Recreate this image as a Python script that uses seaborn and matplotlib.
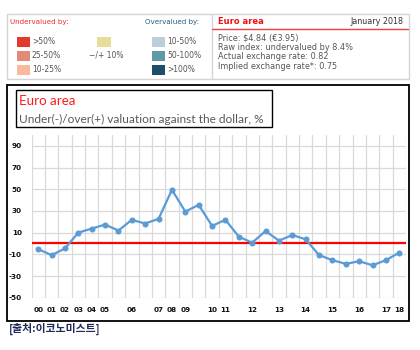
import matplotlib
matplotlib.use("Agg")
import matplotlib.pyplot as plt
from matplotlib.patches import Rectangle
from matplotlib.lines import Line2D
import seaborn as sns
import pandas as pd

# ---- data ----
period_labels = ["00", "01", "02", "03", "04", "05", "", "06", "", "07", "08", "09", "",
                 "10", "11", "", "12", "", "13", "", "14", "", "15", "", "16", "", "17", "18"]
valuation = [-5.2, -10.8, -4.6, 10.0, 13.7, 17.4, 11.9, 21.8, 18.4, 22.7, 49.5, 29.4, 35.6,
             16.2, 21.8, 6.3, 0.7, 11.5, 2.6, 7.8, 3.8, -10.8, -15.4, -18.8, -16.4, -20.1,
             -15.4, -8.4]
y_ticks = [-50, -30, -10, 10, 30, 50, 70, 90]

under_labels = [">50%", "25-50%", "10-25%"]
under_colors = ["#e23b2e", "#e08a78", "#fbb8a0"]
over_labels = ["10-50%", "50-100%", ">100%"]
over_colors = ["#bccfd9", "#5f98a7", "#1b4f6b"]
neutral_label = "\u2212/+ 10%"
neutral_color = "#e8dc9b"
info_lines = ["Price: $4.84 (\u20ac3.95)", "Raw index: undervalued by 8.4%",
              "Actual exchange rate: 0.82", "Implied exchange rate*: 0.75"]

sns.set_theme(style="white")
plt.rcParams["font.family"] = ["DejaVu Sans"]

W, H = 420, 350
fig = plt.figure(figsize=(4.2, 3.5), dpi=100)


def fx(x):
    return x / W


def fy(y):
    return 1 - y / H


def rect(x0, y0, x1, y1, **kw):
    fig.add_artist(Rectangle((fx(x0), fy(y1)), fx(x1) - fx(x0), fy(y0) - fy(y1),
                             transform=fig.transFigure, **kw))


def hline(x0, x1, y, **kw):
    fig.add_artist(Line2D([fx(x0), fx(x1)], [fy(y), fy(y)], transform=fig.transFigure, **kw))


def vline(x, y0, y1, **kw):
    fig.add_artist(Line2D([fx(x), fx(x)], [fy(y0), fy(y1)], transform=fig.transFigure, **kw))


def text(x, y, s, **kw):
    fig.text(fx(x), fy(y), s, **kw)


# ---- top legend panel ----
rect(7, 14, 409, 79, fill=False, edgecolor="#d4d4d4", linewidth=1.0)
vline(212, 14, 79, color="#d4d4d4", linewidth=1.0)
text(10, 22, "Undervalued by:", color="#ee2a2a", fontsize=5.1, va="center", ha="left")
text(145, 22, "Overvalued by:", color="#2b5a78", fontsize=5.1, va="center", ha="left")
rows_y = [42, 56, 70]
for yy, lab, col in zip(rows_y, under_labels, under_colors):
    rect(17, yy - 5, 30, yy + 5, facecolor=col, edgecolor="none")
    text(32, yy, lab, color="#555555", fontsize=5.5, va="center", ha="left")
rect(97, 37, 111, 47, facecolor=neutral_color, edgecolor="none")
text(89, 55, neutral_label, color="#555555", fontsize=5.5, va="center", ha="left")
for yy, lab, col in zip(rows_y, over_labels, over_colors):
    rect(152, yy - 5, 165, yy + 5, facecolor=col, edgecolor="none")
    text(167, yy, lab, color="#555555", fontsize=5.5, va="center", ha="left")

text(218, 21, "Euro area", color="#ee1111", fontsize=6.0, fontweight="bold", va="center", ha="left")
text(403, 21, "January 2018", color="#333333", fontsize=5.8, va="center", ha="right")
hline(212, 408, 29, color="#f04040", linewidth=1.0)
for i, line in enumerate(info_lines):
    text(218, 38 + i * 9.4, line, color="#555555", fontsize=5.9, va="center", ha="left")

# ---- chart box ----
rect(7, 85, 409, 321, fill=False, edgecolor="black", linewidth=1.3)
rect(16, 90, 272, 127, fill=False, edgecolor="black", linewidth=1.0)
text(19, 101, "Euro area", color="#ff1a1a", fontsize=9.6, family="Lato", va="center", ha="left")
text(19, 119, "Under(-)/over(+) valuation against the dollar, %", color="#595959",
     fontsize=8.6, family="Lato", va="center", ha="left")

left, right, top, bottom = 31.5, 406, 135, 297.7
ax = fig.add_axes([fx(left), fy(bottom), fx(right) - fx(left), fy(top) - fy(bottom)])

df = pd.DataFrame({"pos": list(range(len(valuation))), "val": valuation})
ax.axhline(0, color="#ff0000", linewidth=1.6, zorder=2)
sns.lineplot(data=df, x="pos", y="val", ax=ax, color="#5b9bd5", linewidth=1.6,
             marker="o", markersize=3.6, markeredgecolor="#5b9bd5", zorder=3)

n = len(valuation)
ax.set_xlim(-0.5, n - 0.5)
ax.set_ylim(-50, 100)
ax.set_xticks(range(n))
ax.set_xticklabels(period_labels)
ax.set_xticks([i + 0.5 for i in range(-1, n)], minor=True)
ax.set_yticks(y_ticks)
ax.set_yticklabels([str(v) for v in y_ticks])
ax.grid(False)
ax.grid(True, which="minor", axis="x", color="#d9d9d9", linewidth=0.9)
ax.grid(True, which="major", axis="y", color="#d9d9d9", linewidth=0.9)
ax.set_axisbelow(True)
ax.tick_params(axis="both", which="both", length=0)
ax.tick_params(axis="x", pad=6.5)
ax.tick_params(axis="y", pad=7)
for lab in ax.get_xticklabels() + ax.get_yticklabels():
    lab.set_fontsize(5.2)
    lab.set_fontweight("bold")
    lab.set_color("#111111")
ax.set_xlabel("")
ax.set_ylabel("")
for s in ax.spines.values():
    s.set_visible(False)
ax.patch.set_alpha(0)

# ---- source ----
fig.text(fx(9), fy(329), "[\ucd9c\ucc98:\uc774\ucf54\ub178\ubbf8\uc2a4\ud2b8]", color="#1f2a5c",
         fontsize=7.8, fontweight="bold", family=["Noto Sans CJK KR", "DejaVu Sans"],
         va="center", ha="left")

fig.savefig("out.png", dpi=100)
